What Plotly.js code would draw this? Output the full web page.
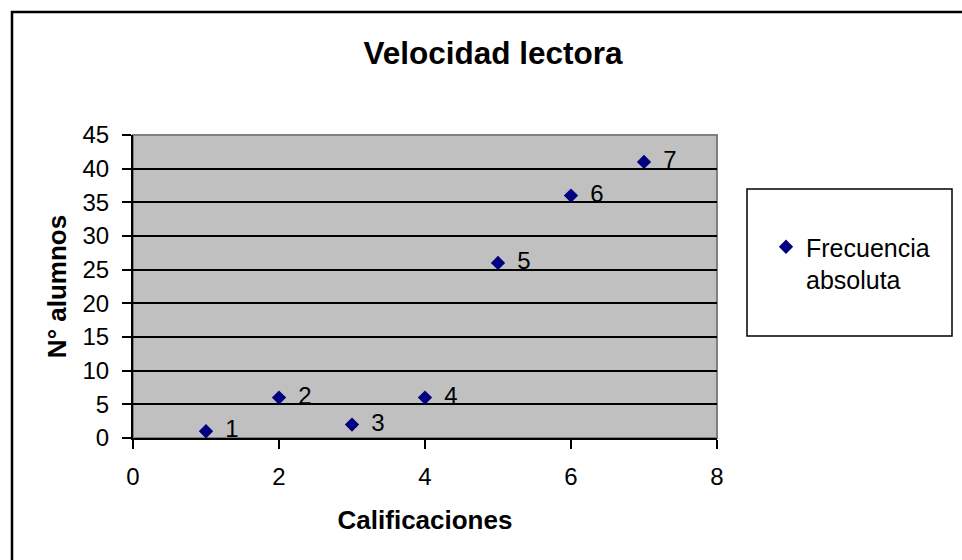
<!DOCTYPE html>
<html>
<head>
<meta charset="utf-8">
<script src="https://cdn.plot.ly/plotly-3.0.1.min.js"></script>
<style>html,body{margin:0;padding:0;background:#fff;}#chart{width:962px;height:560px;}</style>
</head>
<body>
<div id="chart"></div>
<script>
const calificaciones = [1, 2, 3, 4, 5, 6, 7];
const frecuenciaAbsoluta = [1, 6, 2, 6, 26, 36, 41];
const etiquetas = ["1", "2", "3", "4", "5", "6", "7"];
const seriesName = "Frecuencia<br>absoluta";
const chartTitle = "Velocidad lectora";
const xTitle = "Calificaciones";
const yTitle = "N° alumnos";

const FONT = "'Liberation Sans', Arial, sans-serif";

const trace = {
  x: calificaciones,
  y: frecuenciaAbsoluta,
  text: etiquetas,
  texttemplate: '\u00a0\u2009%{text}',
  type: 'scatter',
  mode: 'markers+text',
  name: seriesName,
  textposition: 'middle right',
  textfont: {family: FONT, size: 24, color: '#000'},
  marker: {symbol: 'diamond', size: 11, color: '#000080', line: {width: 0}},
  cliponaxis: false,
  hoverinfo: 'x+y'
};

const layout = {
  width: 962,
  height: 560,
  margin: {l: 133, r: 245, t: 135, b: 122, pad: 0},
  paper_bgcolor: '#ffffff',
  plot_bgcolor: '#c0c0c0',
  font: {family: FONT, color: '#000'},
  title: {
    text: '<b>' + chartTitle + '</b>',
    font: {family: FONT, size: 31.5, color: '#000'},
    xref: 'container', x: 493/962, xanchor: 'center',
    yref: 'container', y: 1 - 53/560, yanchor: 'middle'
  },
  xaxis: {
    range: [0, 8],
    dtick: 2,
    tick0: 0,
    ticks: 'outside',
    ticklen: 9,
    tickwidth: 2,
    tickcolor: '#000',
    showline: true,
    linecolor: '#000',
    linewidth: 2,
    showgrid: false,
    zeroline: false,
    fixedrange: true,
    ticklabelstandoff: 7,
    tickfont: {family: FONT, size: 24, color: '#000'},
    title: {text: '<b>' + xTitle + '</b>', font: {family: FONT, size: 26, color: '#000'}, standoff: 22}
  },
  yaxis: {
    range: [0, 45],
    dtick: 5,
    tick0: 0,
    ticks: 'outside',
    ticklen: 9,
    tickwidth: 2,
    tickcolor: '#000',
    showline: true,
    linecolor: '#000',
    linewidth: 2,
    showgrid: true,
    gridcolor: '#000',
    gridwidth: 2,
    zeroline: false,
    fixedrange: true,
    ticklabelstandoff: 8,
    tickfont: {family: FONT, size: 24, color: '#000'},
    title: {text: '<b>' + yTitle + '</b>', font: {family: FONT, size: 26, color: '#000'}, standoff: 8}
  },
  showlegend: true,
  legend: {
    x: (766 - 133) / 584,
    xanchor: 'left',
    y: (438 - 224) / 303,
    yanchor: 'top',
    bgcolor: 'rgba(0,0,0,0)',
    borderwidth: 0,
    valign: 'top',
    font: {family: FONT, size: 25, color: '#000'}
  },
  shapes: [
    {type: 'rect', xref: 'paper', yref: 'paper', x0: 0, x1: 1, y0: 0, y1: 1,
     line: {color: '#808080', width: 2}, fillcolor: 'rgba(0,0,0,0)', layer: 'below'},
    {type: 'rect', xref: 'paper', yref: 'paper',
     x0: (747 - 133) / 584, x1: (952 - 133) / 584,
     y0: (438 - 336) / 303, y1: (438 - 189) / 303,
     line: {color: '#000', width: 1.5}, fillcolor: 'rgba(0,0,0,0)'},
    {type: 'rect', xref: 'paper', yref: 'paper',
     x0: (12 - 133) / 584, x1: 1.6,
     y0: -0.7, y1: (438 - 12) / 303,
     line: {color: '#000', width: 2.5}, fillcolor: 'rgba(0,0,0,0)'}
  ]
};

Plotly.newPlot('chart', [trace], layout, {displayModeBar: false, staticPlot: true});
</script>
</body>
</html>
